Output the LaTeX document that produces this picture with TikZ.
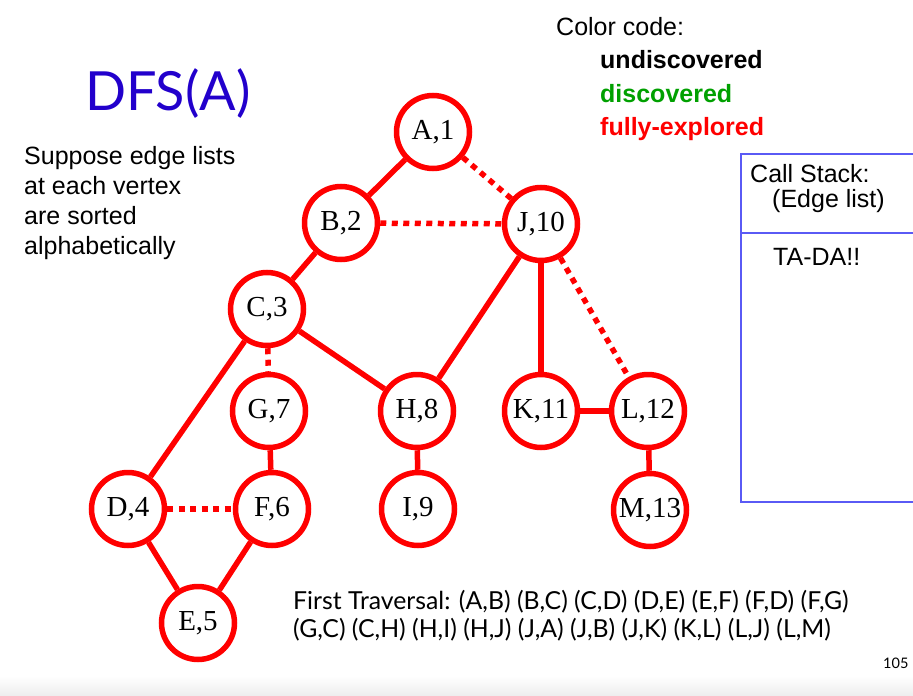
\documentclass[tikz,border=0pt]{standalone}
\usepackage{fontspec}
\setmainfont{Liberation Serif}
\newfontfamily\helv{Liberation Sans}
\newfontfamily\gill{Lato}
\definecolor{dfsred}{HTML}{FF0000}
\definecolor{dfsgreen}{HTML}{00A000}
\definecolor{dfsblue}{HTML}{2200CC}
\definecolor{boxblue}{HTML}{5A5AF5}
\begin{document}
\begin{tikzpicture}[x=1pt,y=-1pt,
  vtx/.style={circle,draw=dfsred,line width=5.5pt,fill=white,minimum size=73pt,inner sep=0pt,
    font=\fontsize{29}{29}\selectfont},
  tree/.style={draw=dfsred,line width=5.5pt},
  back/.style={draw=dfsred,line width=5.5pt,dash pattern=on 6pt off 5.5pt},
  helvtxt/.style={anchor=base west,inner sep=0pt,font=\helv\fontsize{25}{29.7}\selectfont},
  gilltxt/.style={anchor=base west,inner sep=0pt,font=\gill\fontsize{24.8}{27}\selectfont}]
\path[use as bounding box] (0,0) rectangle (913,696);
\shade[top color=white,bottom color=black!7] (0,676) rectangle (913,696);

% vertices
\node[vtx] (A) at (433,132) {A,1};
\node[vtx] (B) at (341,223) {B,2};
\node[vtx] (J) at (541,224) {J,10};
\node[vtx] (C) at (267,309) {C,3};
\node[vtx] (G) at (269,411) {G,7};
\node[vtx] (H) at (417,411) {H,8};
\node[vtx] (K) at (541,411) {K,11};
\node[vtx] (L) at (648,411) {L,12};
\node[vtx] (D) at (128,509) {D,4};
\node[vtx] (F) at (272,509) {F,6};
\node[vtx] (I) at (418,509) {I,9};
\node[vtx] (M) at (650,510) {M,13};
\node[vtx] (E) at (198,623) {E,5};

% edges
\path[tree] (A) -- (B);
\path[tree] (B) -- (C);
\path[tree] (C) -- (D);
\path[tree] (D) -- (E);
\path[tree] (E) -- (F);
\path[tree] (F) -- (G);
\path[tree] (C) -- (H);
\path[tree] (H) -- (I);
\path[tree] (H) -- (J);
\path[tree] (J) -- (K);
\path[tree] (K) -- (L);
\path[tree] (L) -- (M);
\path[back] (A) -- (J);
\path[back] (B) -- (J);
\path[back] (C) -- (G);
\path[back] (D) -- (F);
\path[back] (J) -- (L);

% title and notes
\node[anchor=base west,inner sep=0pt,text=dfsblue,font=\gill\fontsize{54}{54}\selectfont] (title) at (85,110) {DFS(A)};
\node[helvtxt,align=left] (note) at (24,254) {Suppose edge lists\\at each vertex\\are sorted\\alphabetically};

% color code
\node[helvtxt] (cc) at (556,35) {Color code:};
\node[helvtxt,font=\helv\bfseries\fontsize{25}{25}\selectfont] (cu) at (600,68.5) {undiscovered};
\node[helvtxt,font=\helv\bfseries\fontsize{25}{25}\selectfont,text=dfsgreen] (cd) at (600,102) {discovered};
\node[helvtxt,font=\helv\bfseries\fontsize{25}{25}\selectfont,text=dfsred] (cf) at (600,135.5) {fully-explored};

% call stack box
\draw[boxblue,line width=1.2pt] (913,154) -- (741,154) -- (741,502) -- (913,502);
\draw[boxblue,line width=1.2pt] (741,233) -- (913,233);
\node[helvtxt] (cs1) at (750,182) {Call Stack:};
\node[helvtxt] (cs2) at (772,207) {(Edge list)};
\node[helvtxt] (tada) at (773,265) {TA-DA!!};

% traversal
\node[gilltxt] (t1) at (293,609) {First Traversal: (A,B) (B,C) (C,D) (D,E) (E,F) (F,D) (F,G)};
\node[gilltxt] (t2) at (293,637) {(G,C) (C,H) (H,I) (H,J) (J,A) (J,B) (J,K) (K,L) (L,J) (L,M)};
\node[anchor=base west,inner sep=0pt,font=\gill\fontsize{14.5}{14.5}\selectfont] (pg) at (883,668) {105};
\end{tikzpicture}
\end{document}
